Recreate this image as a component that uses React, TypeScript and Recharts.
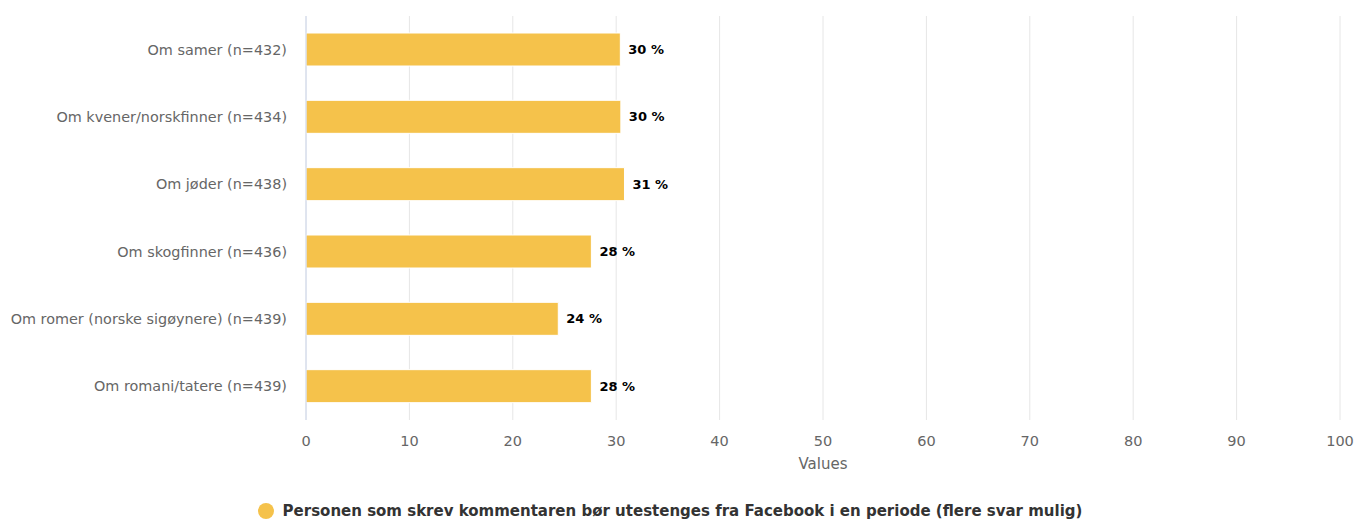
import React from "react";
import { BarChart, Bar, XAxis, YAxis, CartesianGrid, Legend, LabelList } from "recharts";

const categories = [
  "Om samer (n=432)",
  "Om kvener/norskfinner (n=434)",
  "Om jøder (n=438)",
  "Om skogfinner (n=436)",
  "Om romer (norske sigøynere) (n=439)",
  "Om romani/tatere (n=439)",
];
const values = [30.4, 30.45, 30.8, 27.6, 24.4, 27.6];
const xTicks = [0, 10, 20, 30, 40, 50, 60, 70, 80, 90, 100];
const seriesName = "Personen som skrev kommentaren bør utestenges fra Facebook i en periode (flere svar mulig)";
const axisTitle = "Values";

const data = categories.map((c, i) => ({ name: c, value: values[i] }));

const FONT = "'DejaVu Sans', sans-serif";
const COLOR = "#f5c24b";

const LegendContent = () => (
  <div
    style={{
      display: "flex",
      justifyContent: "center",
      alignItems: "center",
      height: 40,
      boxSizing: "border-box",
      paddingTop: 22,
      fontFamily: FONT,
    }}
  >
    <svg width={16} height={16} style={{ marginRight: 9 }}>
      <circle cx={8} cy={8} r={8} fill={COLOR} />
    </svg>
    <span style={{ fontWeight: "bold", fontSize: 15, color: "#333" }}>{seriesName}</span>
  </div>
);

export default function App() {
  return (
    <div style={{ position: "absolute", left: 0, top: 0 }}>
      <BarChart
        width={1360}
        height={520}
        data={data}
        layout="vertical"
        margin={{ top: 16, right: 20, left: 0, bottom: 0 }}
        barCategoryGap={0}
      >
        <CartesianGrid horizontal={false} stroke="#e6e6e6" />
        <XAxis
          type="number"
          domain={[0, 100]}
          ticks={xTicks}
          axisLine={false}
          tickLine={false}
          tickSize={0}
          tickMargin={16}
          height={60}
          tick={{ fill: "#666", fontSize: 14.5, fontFamily: FONT }}
          label={{ value: axisTitle, position: "insideBottom", offset: 11, fill: "#666", fontSize: 15, fontFamily: FONT }}
        />
        <YAxis
          type="category"
          dataKey="name"
          width={306}
          axisLine={{ stroke: "#ccd6eb" }}
          tickLine={false}
          tickSize={0}
          tickMargin={19}
          tick={{ fill: "#666", fontSize: 14.4, fontFamily: FONT }}
        />
        <Legend verticalAlign="bottom" height={40} content={<LegendContent />} />
        <Bar dataKey="value" name={seriesName} fill={COLOR} stroke="#fff" strokeWidth={1} barSize={33} isAnimationActive={false}>
          <LabelList
            dataKey="value"
            position="right"
            offset={8}
            formatter={(v: any) => `${Math.round(Number(v))} %`}
            style={{ fill: "#000", fontWeight: "bold", fontSize: 13, fontFamily: FONT }}
          />
        </Bar>
      </BarChart>
    </div>
  );
}
